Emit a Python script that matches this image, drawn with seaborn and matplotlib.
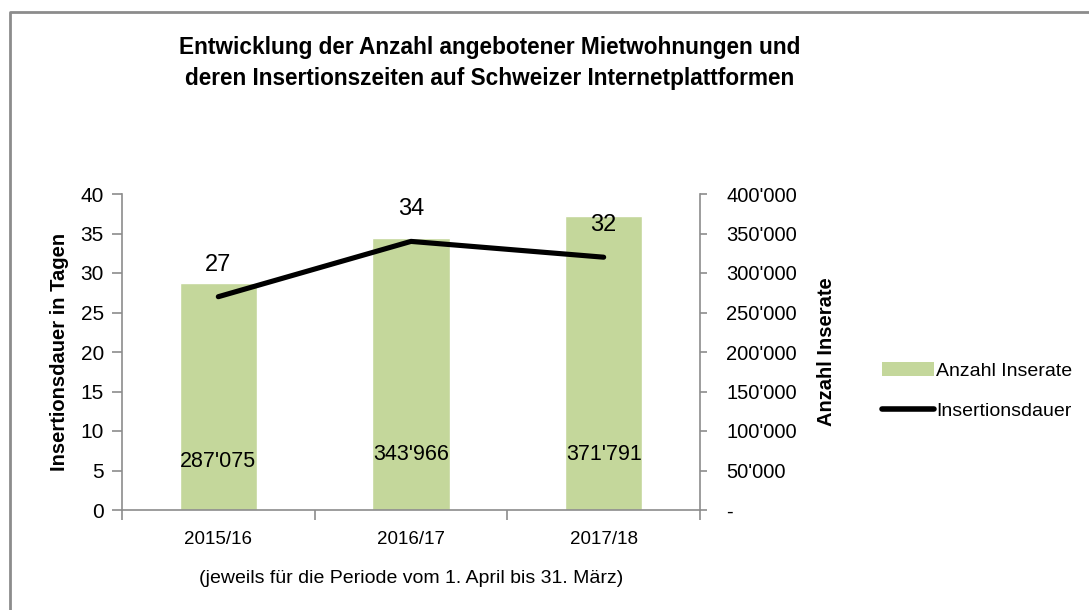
import matplotlib
matplotlib.use("Agg")
import matplotlib.pyplot as plt
import seaborn as sns
import pandas as pd
from matplotlib.ticker import FuncFormatter
from matplotlib.lines import Line2D
from matplotlib.patches import Patch

periods = ["2015/16", "2016/17", "2017/18"]
anzahl_inserate = [287075, 343966, 371791]
insertionsdauer = [27, 34, 32]
left_ticks = [0, 5, 10, 15, 20, 25, 30, 35, 40]
right_ticks = [0, 50000, 100000, 150000, 200000, 250000, 300000, 350000, 400000]

title = "Entwicklung der Anzahl angebotener Mietwohnungen und\nderen Insertionszeiten auf Schweizer Internetplattformen"
xlabel = "(jeweils für die Periode vom 1. April bis 31. März)"
ylabel_left = "Insertionsdauer in Tagen"
ylabel_right = "Anzahl Inserate"

df = pd.DataFrame({"Periode": periods, "Anzahl": anzahl_inserate, "Dauer": insertionsdauer})

sns.set_theme(style="white")
plt.rcParams["font.family"] = ["Liberation Sans", "DejaVu Sans"]
plt.rcParams["text.color"] = "black"
plt.rcParams["axes.labelcolor"] = "black"
plt.rcParams["xtick.color"] = "black"
plt.rcParams["ytick.color"] = "black"

BAR = "#C4D79B"
GREY = "#8C8C8C"

fig = plt.figure(figsize=(10.89, 6.10), dpi=100)
ax1 = fig.add_axes([122/1089, 1-510/610, (700-122)/1089, (510-194)/610])
ax2 = ax1.twinx()
ax2.set_zorder(ax1.get_zorder() - 1)
ax1.patch.set_visible(False)

sns.barplot(data=df, x="Periode", y="Anzahl", color=BAR, width=0.4,
            saturation=1, ax=ax2, order=periods)
sns.lineplot(x=[0, 1, 2], y=df["Dauer"].values, color="black", linewidth=3.7,
             ax=ax1, sort=False, solid_capstyle="round")

ax1.set_xlim(-0.5, 2.5)
ax1.set_ylim(0, 40)
ax2.set_ylim(0, 400000)
ax1.set_yticks(left_ticks)
ax2.set_yticks(right_ticks)

def fmt(v, pos):
    if v == 0:
        return "-"
    return f"{int(v):,}".replace(",", "'")
ax2.yaxis.set_major_formatter(FuncFormatter(fmt))

ax1.set_xticks([-0.5, 0.5, 1.5, 2.5], minor=False)
ax1.set_xticklabels([])
ax1.set_xticks([0, 1, 2], minor=True)
ax1.set_xticklabels(periods, minor=True)
ax1.tick_params(axis="x", which="major", length=7, width=1.2, color=GREY, direction="out", bottom=True)
ax1.tick_params(axis="x", which="minor", length=0, labelsize=13.5, pad=15, labelcolor="black")
ax2.tick_params(axis="x", which="both", bottom=False, labelbottom=False)
ax1.tick_params(axis="y", length=7, width=1.2, color=GREY, direction="out", left=True, labelsize=15, pad=6, labelcolor="black")
ax2.tick_params(axis="y", length=5, width=1.2, color=GREY, direction="out", right=True, labelsize=14.5, pad=14, labelcolor="black")
for lab in ax2.get_yticklabels():
    lab.set_horizontalalignment("left")

for ax in (ax1, ax2):
    ax.spines["top"].set_visible(False)
    for s in ["left", "right", "bottom"]:
        ax.spines[s].set_color(GREY)
        ax.spines[s].set_linewidth(1.2)
ax1.spines["right"].set_visible(False)
ax2.spines["left"].set_visible(False)
ax2.spines["bottom"].set_visible(False)

ax1.set_xlabel(xlabel, fontsize=14, labelpad=16)
ax1.set_ylabel(ylabel_left, fontsize=14.5, fontweight="bold", labelpad=8)
ax2.set_ylabel(ylabel_right, fontsize=14.5, fontweight="bold", labelpad=14)
ax2.set_xlabel("")

# data labels
for i, v in enumerate(insertionsdauer):
    ax1.annotate(str(v), (i, v), xytext=(0, 32), textcoords="offset pixels",
                 ha="center", va="center", fontsize=17)
bar_label_y = [6.2, 7.0, 7.0]
for i, v in enumerate(anzahl_inserate):
    ax1.text(i, bar_label_y[i], f"{v:,}".replace(",", "'"), ha="center", va="center", fontsize=15.5)

fig.text(490/1089, 1-63/610, title, ha="center", va="center", fontsize=16.3,
         fontweight="bold", linespacing=1.45)

handles = [Patch(facecolor=BAR, edgecolor="none", label="Anzahl Inserate"),
           Line2D([0], [0], color="black", linewidth=4, solid_capstyle="round", label="Insertionsdauer")]
fig.legend(handles=handles, loc="center left", bbox_to_anchor=(864/1089, 1-391/610),
           frameon=False, fontsize=14, handlelength=2.7, handletextpad=0.1, labelspacing=1.15)

# outer chart border (top and left visible)
fig.add_artist(Line2D([10/1089, 10/1089, 1], [0, 1-12/610, 1-12/610],
                      transform=fig.transFigure, color=GREY, linewidth=2))

fig.savefig("out.png", dpi=100, facecolor="white")
